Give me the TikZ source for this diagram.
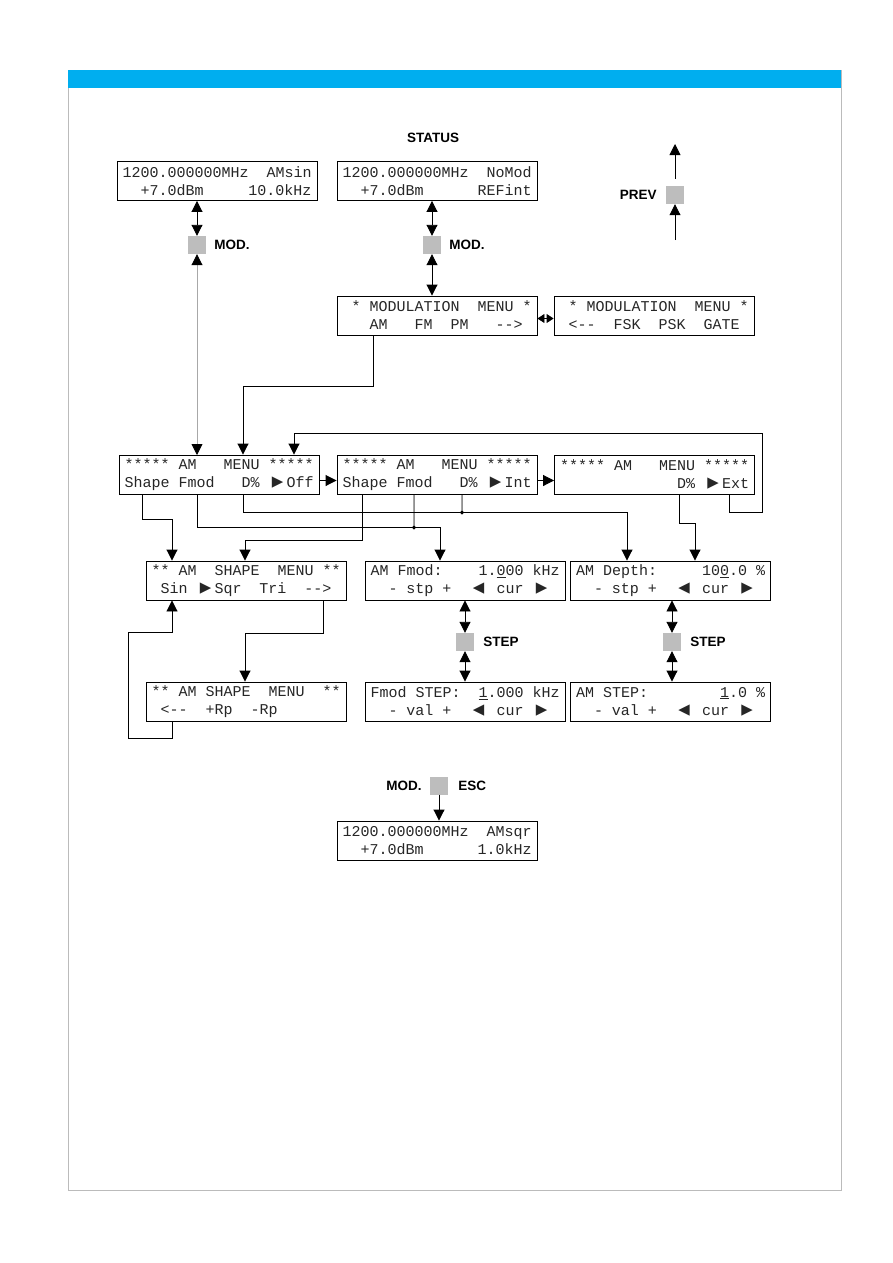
\documentclass[tikz,border=0pt]{standalone}
\usepackage{fontspec}
\setmonofont{Liberation Mono}
\setsansfont{Liberation Sans}
\newfontfamily\trifont{DejaVu Sans Mono}
\usetikzlibrary{arrows.meta, positioning, calc}
\definecolor{barblue}{HTML}{00AEEF}
\definecolor{keygray}{HTML}{BDBDBD}
\definecolor{framegray}{HTML}{BBBBBB}
\definecolor{linegray}{HTML}{A8A8A8}
\newcommand\lcdfont{\ttfamily\fontsize{15}{18}\selectfont\frenchspacing\spaceskip 9pt\relax}
\newcommand\triR{\makebox[1.2em]{\trifont\fontsize{19}{18}\selectfont ▶}}
\newcommand\triL{\makebox[1.2em]{\trifont\fontsize{19}{18}\selectfont ◀}}

\begin{document}
\begin{tikzpicture}[x=1pt, y=-1pt,
    lcd/.style={draw, line width=0.9pt, text width=189pt, inner xsep=5.5pt, inner ysep=0pt, minimum height=39pt, align=flush left, text=black!85, font=\lcdfont},
    key/.style={fill=keygray, minimum size=18pt, inner sep=0pt},
    lbl/.style={font=\sffamily\bfseries\fontsize{13.5}{16}\selectfont, inner sep=0pt},
    arr/.style={-{Triangle[length=11pt,width=11pt]}, line width=0.9pt},
    dbl/.style={{Triangle[length=11pt,width=11pt]}-{Triangle[length=11pt,width=11pt]}, line width=0.9pt},
    gdbl/.style={{Triangle[length=11pt,width=11pt,color=black]}-{Triangle[length=11pt,width=11pt,color=black]}, line width=0.9pt, draw=linegray},
    sdbl/.style={{Triangle[length=7pt,width=9pt]}-{Triangle[length=7pt,width=9pt]}, line width=0.9pt},
    wire/.style={line width=0.9pt},
]
\useasboundingbox (0,0) rectangle (893,1263);

% page frame
\draw[framegray, line width=0.8pt] (68,70) rectangle (841,1190);
\fill[barblue] (68,70) rectangle (841,88);

% --- Status ---
\node[lbl] (status) at (433,138) {STATUS};
\node[lcd] (sAM) at (217,181) {1200.000000MHz~~AMsin\\\mbox{}~~+7.0dBm~~~~~10.0kHz};
\node[lcd] (sStat) at (437,181) {1200.000000MHz~~NoMod\\\mbox{}~~+7.0dBm~~~~~~REFint};

\node[key] (k1) at (197,245) {};
\node[lbl, right=8pt of k1] (k1lbl) {MOD.};
\node[key] (k2) at (432,245) {};
\node[lbl, right=8pt of k2] (k2lbl) {MOD.};

% PREV key
\node[key] (kPrev) at (675,195) {};
\node[lbl, left=9pt of kPrev] (prevlbl) {PREV};
\coordinate (prevIn) at (675,240);
\coordinate (prevOut) at (675,144);
\draw[arr] (prevIn) -- (kPrev.south);
\draw[arr] ([yshift=7]kPrev.north) -- (prevOut);

% --- Modulation menu ---
\node[lcd] (mod1) at (437,315.5) {\mbox{}~*~MODULATION~~MENU~*\\\mbox{}~~~AM~~~FM~~PM~~~-->};
\node[lcd] (mod2) at (654,315.5) {\mbox{}~*~MODULATION~~MENU~*\\\mbox{}~<--~~FSK~~PSK~~GATE};

\draw[dbl] (sAM.south -| k1) -- (k1.north);
\draw[gdbl] (k1.south) -- (k1.south |- 0,455);
\draw[dbl] (sStat.south -| k2) -- (k2.north);
\draw[dbl] (k2.south) -- (mod1.north -| k2);
\draw[sdbl] ([yshift=-3]mod1.east) -- ([yshift=-3]mod2.west);

% --- AM menu ---
\node[lcd] (am1) at (219,474.5) {*****~AM~~~MENU~*****\\Shape~Fmod~~~D\%~\triR{}Off};
\node[lcd] (am2) at (437,474.5) {*****~AM~~~MENU~*****\\Shape~Fmod~~~D\%~\triR{}Int};
\node[lcd] (am3) at (654.5,474.5) {*****~AM~~~MENU~*****\\\mbox{}~~~~~~~~~~~~~D\%~\triR{}Ext};

\draw[arr] ([xshift=-64]mod1.south) -- ++(0,51) -| ([xshift=24]am1.north);
\draw[arr] ([yshift=-6]am1.east) -- ([yshift=-6]am2.west);
\draw[arr] ([yshift=-6]am2.east) -- ([yshift=-6]am3.west);
\draw[arr] ([xshift=74.5]am3.south) -- ++(0,18) -- ++(33,0) -- ++(0,-79) -| ([xshift=75]am1.north);

% --- sub menus ---
\node[lcd] (shp1) at (246,580.5) {**~AM~~SHAPE~~MENU~**\\\mbox{}~Sin~\triR{}Sqr~~Tri~~-->};
\node[lcd] (fmod) at (465,580.5) {AM~Fmod:~~~~1.\underline{0}00~kHz\\\mbox{}~~-~stp~+~~\triL{}~cur~\triR};
\node[lcd] (depth) at (670.5,580.5) {AM~Depth:~~~~~10\underline{0}.0~\%\\\mbox{}~~-~stp~+~~\triL{}~cur~\triR};

\draw[arr] ([xshift=-77]am1.south) -- ++(0,25) -| ([xshift=-74]shp1.north);
\draw[arr] ([xshift=-22]am1.south) -- ++(0,33) -| ([xshift=-25]fmod.north);
\draw[arr] ([xshift=24]am1.south) -- ++(0,18) -| ([xshift=-43.5]depth.north);
\draw[arr] ([xshift=-75]am2.south) -- ++(0,46) -| ([xshift=-1]shp1.north);
\filldraw[wire] ([xshift=-23]am2.south) -- ++(0,33) circle[radius=1.5pt];
\filldraw[wire] ([xshift=25]am2.south) -- ++(0,18) circle[radius=1.5pt];
\draw[arr] ([xshift=24.5]am3.south) -- ++(0,29) -| ([xshift=24.5]depth.north);

% --- shape menu page 2 ---
\node[lcd] (shp2) at (246,701.5) {**~AM~SHAPE~~MENU~~**\\\mbox{}~<--~~+Rp~~-Rp};
\draw[arr] ([xshift=77]shp1.south) -- ++(0,33) -| ([xshift=-1]shp2.north);
\draw[arr] ([xshift=-74]shp2.south) -- ++(0,17) -- ++(-44,0) -- ++(0,-106) -| ([xshift=-74]shp1.south);

% --- STEP ---
\node[key] (kS1) at (465,642) {};
\node[lbl, right=9pt of kS1] (s1lbl) {STEP};
\node[key] (kS2) at (672,642) {};
\node[lbl, right=9pt of kS2] (s2lbl) {STEP};

\node[lcd] (fstep) at (465,701.5) {Fmod~STEP:~~\underline{1}.000~kHz\\\mbox{}~~-~val~+~~\triL{}~cur~\triR};
\node[lcd] (astep) at (670.5,701.5) {AM~STEP:~~~~~~~~\underline{1}.0~\%\\\mbox{}~~-~val~+~~\triL{}~cur~\triR};

\draw[dbl] (fmod.south -| kS1) -- (kS1.north);
\draw[dbl] (kS1.south) -- (fstep.north -| kS1);
\draw[dbl] (depth.south -| kS2) -- (kS2.north);
\draw[dbl] (kS2.south) -- (astep.north -| kS2);

% --- ESC ---
\node[key] (kEsc) at (439,785.5) {};
\node[lbl, left=8pt of kEsc] (esclbl1) {MOD.};
\node[lbl, right=10pt of kEsc] (esclbl2) {ESC};
\node[lcd] (sEnd) at (437,840.5) {1200.000000MHz~~AMsqr\\\mbox{}~~+7.0dBm~~~~~~1.0kHz};
\draw[arr] (kEsc.south) -- (kEsc.south |- sEnd.north);

\end{tikzpicture}
\end{document}
